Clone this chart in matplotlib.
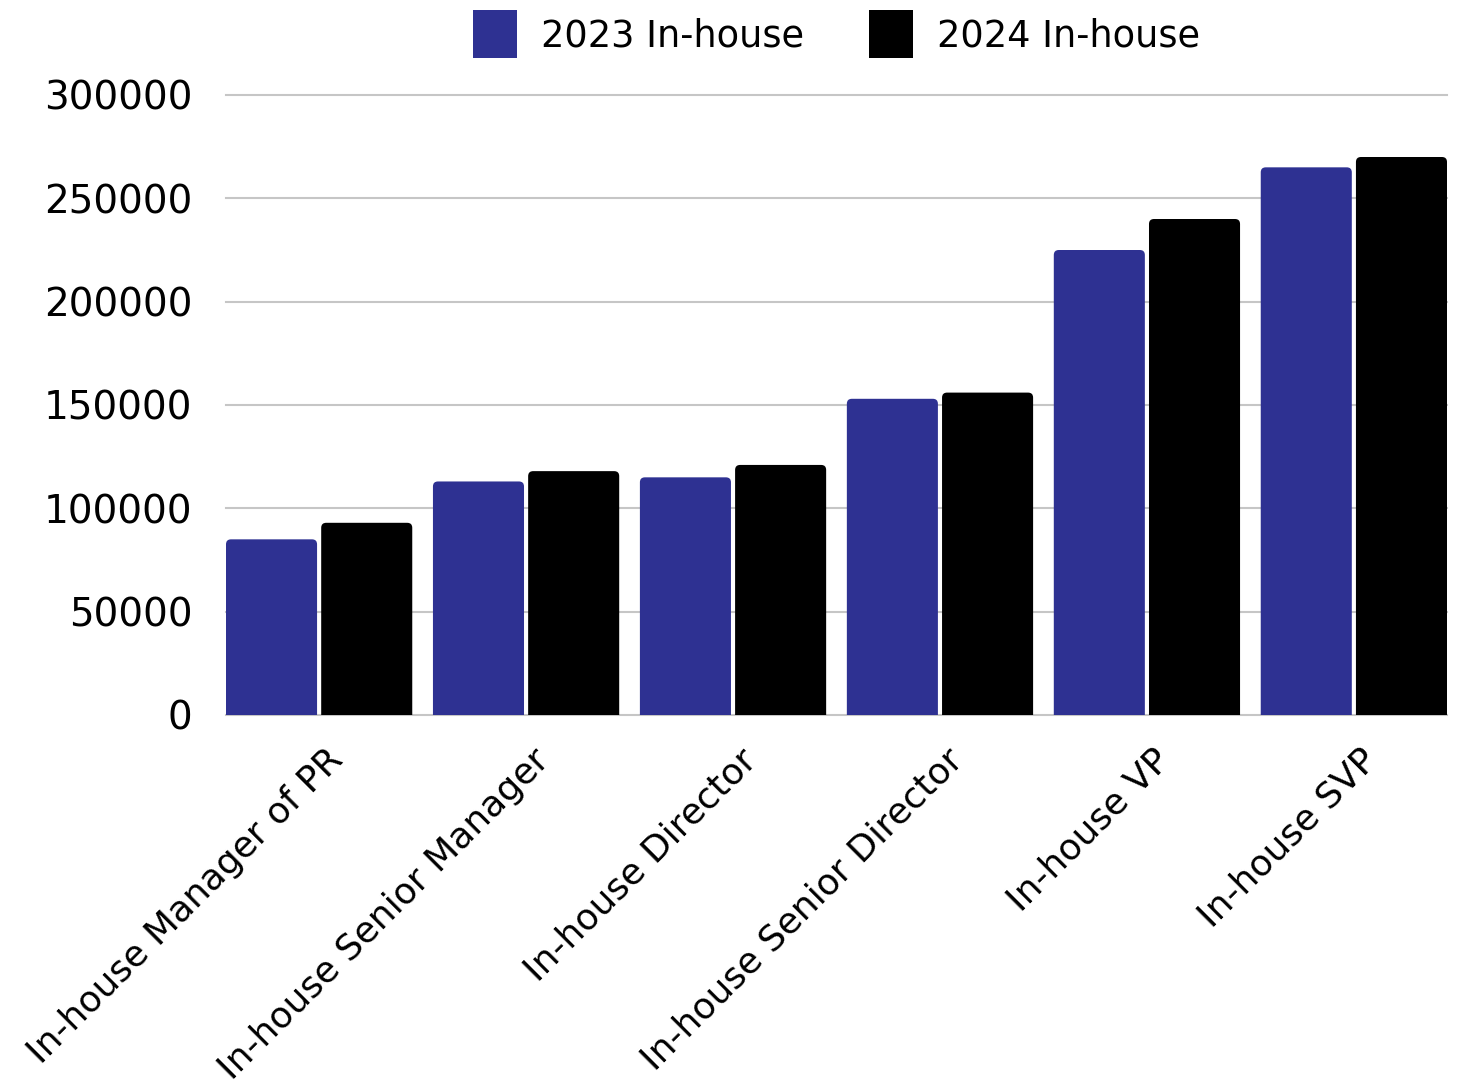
import matplotlib
matplotlib.use("Agg")
import matplotlib.pyplot as plt
from matplotlib.patches import FancyBboxPatch, Patch
from matplotlib.transforms import ScaledTranslation
import numpy as np

# chart data
categories = ["In-house Manager of PR", "In-house Senior Manager", "In-house Director",
              "In-house Senior Director", "In-house VP", "In-house SVP"]
series_names = ["2023 In-house", "2024 In-house"]
values_2023 = [85000, 113000, 115000, 153000, 225000, 265000]
values_2024 = [93000, 118000, 121000, 156000, 240000, 270000]
y_ticks = [0, 50000, 100000, 150000, 200000, 250000, 300000]

BLUE = "#2e3192"
BLACK = "#000000"
GRID = "#c6c6c6"

plt.rcParams['font.family'] = ['DejaVu Sans']

fig = plt.figure(figsize=(14.58, 10.86), dpi=100)
ax = fig.add_axes([226 / 1458, 1 - 715 / 1086, (1447 - 226) / 1458, (715 - 95) / 1086])

x = np.arange(len(categories))
width = 0.44
offset = 0.23

ax.set_xlim(-0.45, len(categories) - 1 + 0.45)
ax.set_ylim(0, 300000)

bars_a = ax.bar(x - offset, values_2023, width, color=BLUE, zorder=3)
bars_b = ax.bar(x + offset, values_2024, width, color=BLACK, zorder=3)

# swap the plain rectangles for ones with rounded tops
bbox = ax.get_window_extent()
xpp = (ax.get_xlim()[1] - ax.get_xlim()[0]) / bbox.width
ypp = (ax.get_ylim()[1] - ax.get_ylim()[0]) / bbox.height
r = 5 * xpp
for bars, col in [(bars_a, BLUE), (bars_b, BLACK)]:
    for rect in bars:
        x0, w, h = rect.get_x(), rect.get_width(), rect.get_height()
        p = FancyBboxPatch((x0, -20 * ypp), w, h + 20 * ypp,
                           boxstyle="round,pad=0,rounding_size=%f" % r,
                           mutation_aspect=ypp / xpp,
                           facecolor=col, edgecolor="none", zorder=3)
        ax.add_patch(p)
        rect.set_visible(False)

ax.set_yticks(y_ticks)
ax.set_yticklabels([str(v) for v in y_ticks])
ax.yaxis.grid(True, color=GRID, linewidth=1.5, zorder=0)
for gl in ax.yaxis.get_gridlines():
    gl.set_clip_on(False)
ax.set_axisbelow(True)
for s in ax.spines.values():
    s.set_visible(False)
ax.tick_params(axis='y', length=0, pad=24, labelsize=28)
ax.tick_params(axis='x', length=0, pad=20, labelsize=26)

ax.set_xticks(x)
ax.set_xticklabels(categories, rotation=45, ha='right', va='top', rotation_mode='anchor')
shift = ScaledTranslation(6 / 100, 0, fig.dpi_scale_trans)
for lab in ax.get_xticklabels():
    lab.set_transform(lab.get_transform() + shift)

handles = [Patch(facecolor=BLUE, edgecolor='none'), Patch(facecolor=BLACK, edgecolor='none')]
fig.legend(handles, series_names, loc='upper center',
           bbox_to_anchor=((226 + 1447) / 2 / 1458, 1.004), ncol=2, frameon=False,
           fontsize=26.5, handlelength=1.2, handleheight=1.6, handletextpad=0.65,
           columnspacing=1.75, borderaxespad=0.0)

fig.savefig("out.png", dpi=100, facecolor="white")
